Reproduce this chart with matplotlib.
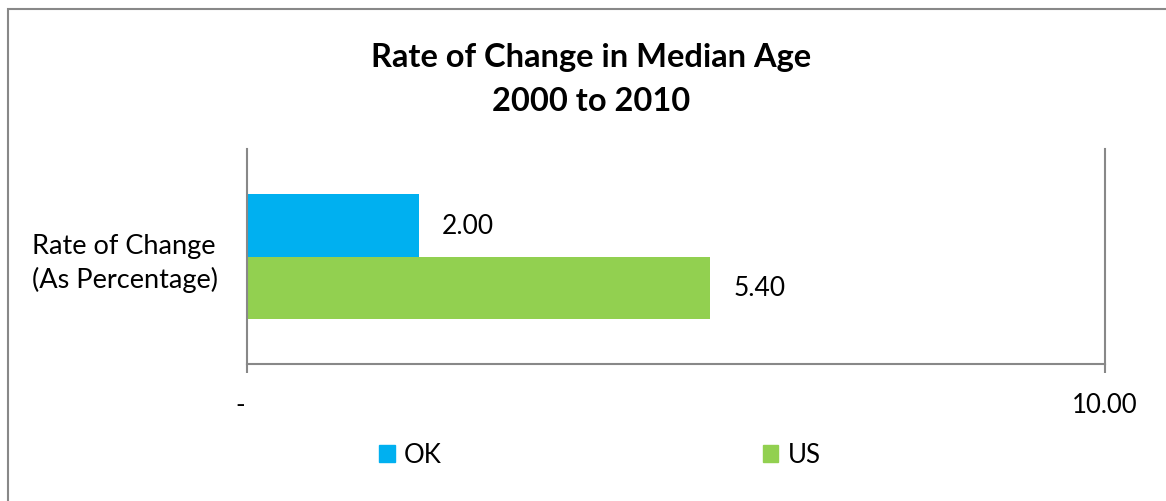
import matplotlib.pyplot as plt
from matplotlib.patches import Patch, Rectangle

plt.rcParams['font.family'] = ['Lato', 'DejaVu Sans']

categories = ["Rate of Change\n(As Percentage)"]
series_names = ["OK", "US"]
ok_values = [2.00]
us_values = [5.40]
colors = ["#00B0F0", "#92D050"]
x_ticks = [0, 10]
x_tick_labels = ["-  ", "10.00"]
title_lines = ["Rate of Change in Median Age", "2000 to 2010"]

W, H = 1166, 502
fig = plt.figure(figsize=(W / 100, H / 100), dpi=100)

# chart border (only top/left fall inside the image)
fig.patches.append(Rectangle((8 / W, -0.1), 1.2, 1 - 10 / H + 0.1, transform=fig.transFigure,
                             fill=False, edgecolor="#888888", linewidth=1.5))

ax = fig.add_axes([247 / W, 1 - 365 / H, (1105 - 247) / W, (365 - 150) / H])

gray = "#888888"
h = 0.29
ypos = [0]
ax.barh([y + 0.145 for y in ypos], ok_values, height=h, color=colors[0])
ax.barh([y - 0.145 for y in ypos], us_values, height=h, color=colors[1])

for vals, off in [(ok_values, 0.145), (us_values, -0.145)]:
    for y, v in zip(ypos, vals):
        ax.annotate(f"{v:.2f}", (v, y + off), xytext=(17, 0), textcoords="offset points",
                    ha="left", va="center", fontsize=19, color="#000000")

ax.set_xlim(0, 10)
ax.set_ylim(-0.5, 0.5)
ax.set_xticks(x_ticks)
ax.set_xticklabels(x_tick_labels, fontsize=18.5)
ax.set_yticks(ypos)
ax.set_yticklabels(categories, fontsize=19.5, multialignment="left", linespacing=1.35)
ax.tick_params(axis="x", length=6.5, width=1.5, color=gray, pad=14)
ax.tick_params(axis="y", length=0, pad=21)

for s in ["left", "right", "bottom"]:
    ax.spines[s].set_color(gray)
    ax.spines[s].set_linewidth(1.5)
ax.spines["top"].set_visible(False)

fig.text(591 / W, 1 - 67 / H, title_lines[0], ha="center", va="baseline",
         fontsize=23.5, fontweight="bold")
fig.text(591 / W, 1 - 111 / H, title_lines[1], ha="center", va="baseline",
         fontsize=23.5, fontweight="bold")

handles = [Patch(color=c) for c in colors]
fig.legend(handles, series_names, loc="center", bbox_to_anchor=(600 / W, 1 - 456 / H),
           ncol=2, frameon=False, fontsize=18.5, handlelength=0.6, handleheight=0.6,
           handletextpad=0.36, columnspacing=12.5)

fig.savefig("out.png", dpi=100)
